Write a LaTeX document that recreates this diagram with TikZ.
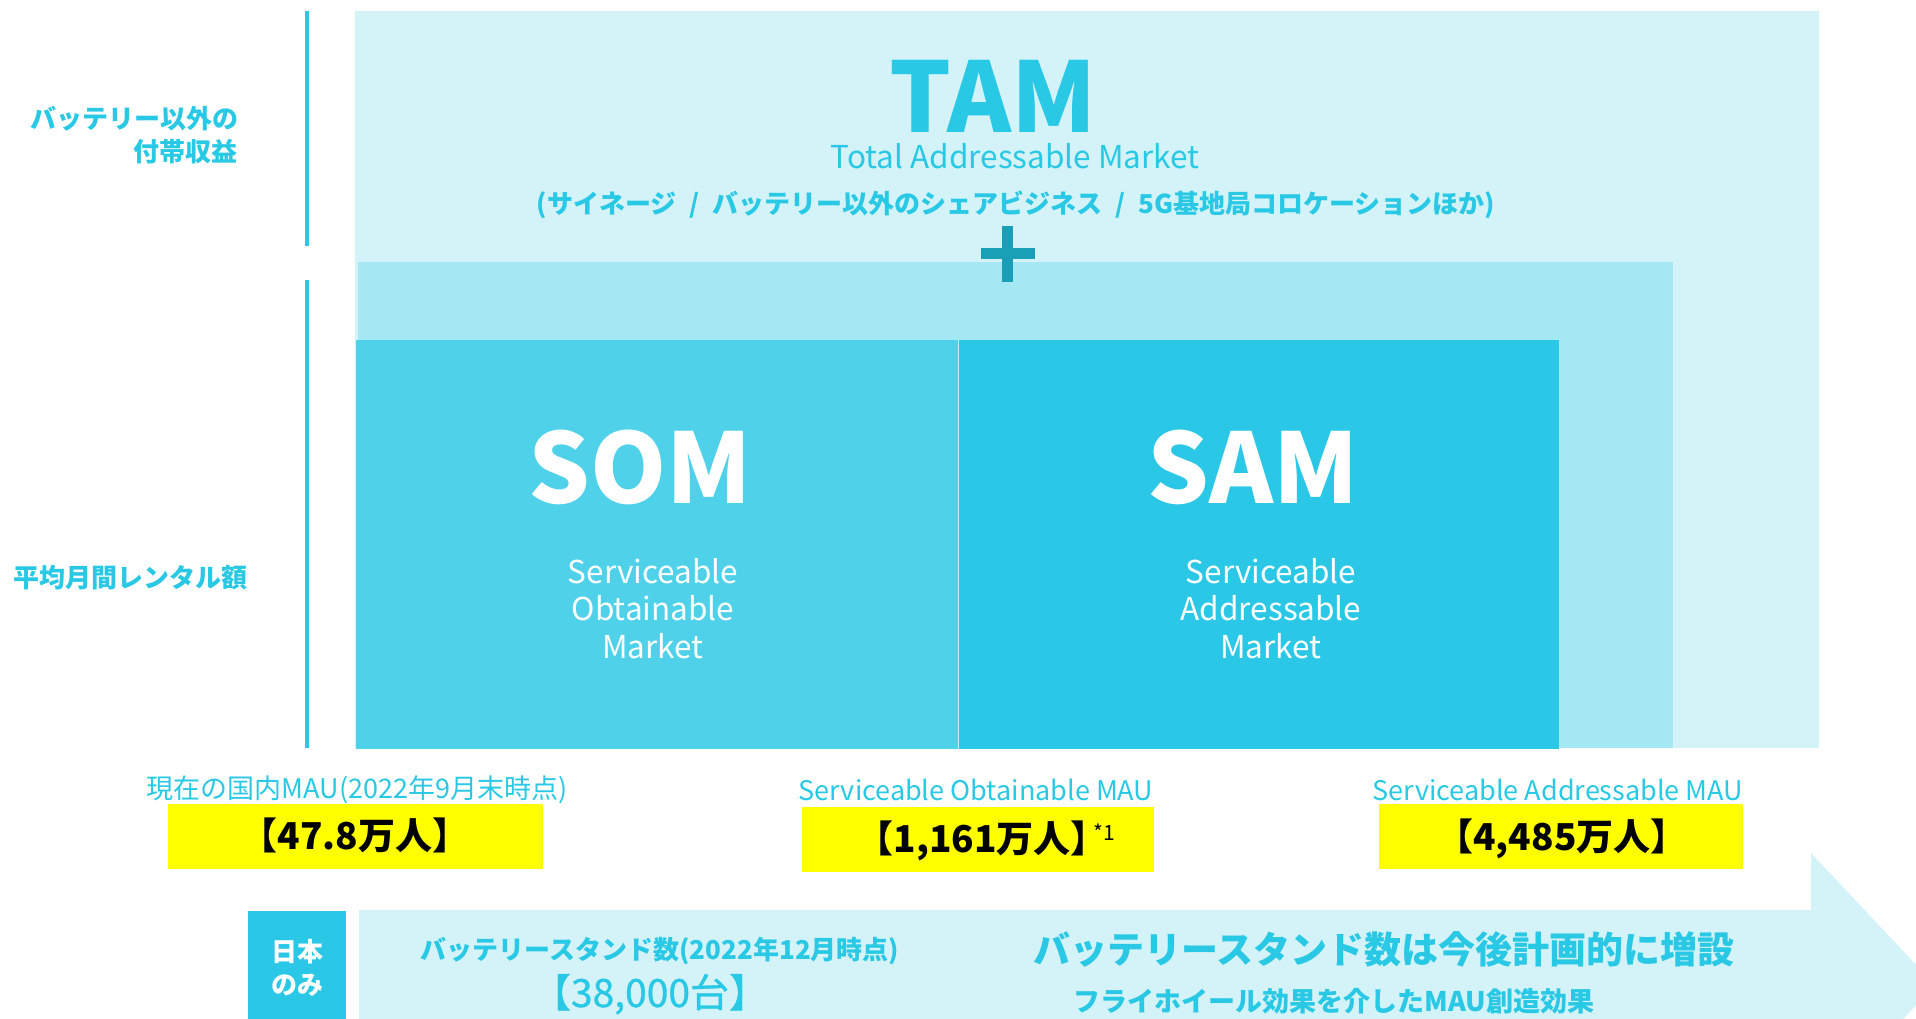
\documentclass[tikz,border=0pt]{standalone}
\usepackage{fontspec}
\setmainfont{Noto Sans CJK JP}
\newfontfamily\medfont{Noto Sans CJK JP}[FakeBold=0.8]
\definecolor{tambg}{HTML}{D4F3F9}
\definecolor{midbg}{HTML}{A3E8F3}
\definecolor{sombg}{HTML}{4FD1EA}
\definecolor{sambg}{HTML}{2AC8E6}
\definecolor{cy}{HTML}{29C8E5}
\definecolor{plusc}{HTML}{1A9FB9}
\definecolor{yel}{HTML}{FFFF00}
\newcommand\fsz[2]{\fontsize{#1}{#2}\selectfont}
\tikzset{
  txt/.style={inner sep=0pt, outer sep=0pt, anchor=base},
  big/.style={txt, font=\fsz{97}{110}\bfseries},
  sub/.style={txt, text=white, font=\fsz{31.5}{37.5}, align=center},
  side/.style={txt, text=cy, font=\fsz{26}{33}\bfseries},
  maulabel/.style={txt, text=cy, font=\fsz{27}{32}},
  num/.style={txt, text=black, font=\fsz{37}{44}\bfseries},
  ybox/.style={fill=yel},
}
\begin{document}
\begin{tikzpicture}[x=1pt,y=-1pt]
\useasboundingbox (0,0) rectangle (1916,1018);
% boxes
\fill[tambg] (355,11) rectangle (1819,748);
\fill[midbg] (358,262) rectangle (1673,748);
\fill[sombg] (356,340) rectangle (958,749);
\fill[sambg] (959,340) rectangle (1559,749);
\draw[white!70!sombg, line width=1pt] (958.5,340) -- (958.5,749);
% plus
\fill[plusc] (1002,226) rectangle (1013,282);
\fill[plusc] (981,248) rectangle (1035,259);
% side lines
\fill[cy] (305,11) rectangle (309,246);
\fill[cy] (305,280) rectangle (309,748);
% arrow band
\begin{scope}
\clip (0,0) rectangle (1916,1018);
\fill[tambg] (359,910) -- (1811,910) -- (1811,853) -- (1935,985) -- (1811,1117) -- (1811,1060) -- (359,1060) -- cycle;
\fill[sambg] (248,911) rectangle (346,1030);
\end{scope}
% yellow boxes
\fill[ybox] (168,804) rectangle (543,869);
\fill[ybox] (802,807) rectangle (1154,872);
\fill[ybox] (1379,804) rectangle (1743,869);

% TAM texts
\node[big, text=cy] (tam) at (993,132) {TAM};
\node[txt, text=cy, font=\fsz{31.5}{36}] (tamsub) at (1015,168) {Total Addressable Market};
\node[txt, text=cy, font=\fsz{26}{32}\bfseries] (tamex) at (1016,213) {(サイネージ\enspace/\enspace バッテリー以外のシェアビジネス\enspace/\enspace 5G基地局コロケーションほか)};
% SOM / SAM
\node[big, text=white] (som) at (640,503) {SOM};
\node[sub] (somsub) at (653,658) {Serviceable\\Obtainable\\Market};
\node[big, text=white] (sam) at (1253,503) {SAM};
\node[sub] (samsub) at (1271,658) {Serviceable\\Addressable\\Market};
% side labels
\node[side, anchor=base east, align=right] (side1) at (238,161) {バッテリー以外の\\付帯収益};
\node[side, anchor=base west] (side2) at (13,587) {平均月間レンタル額};
% MAU labels
\node[maulabel] (l1) at (357,798) {現在の国内MAU(2022年9月末時点)};
\node[maulabel] (l2) at (976,800) {Serviceable Obtainable MAU};
\node[maulabel] (l3) at (1558,800) {Serviceable Addressable MAU};
\node[num] (n1) at (355,849) {【47.8万人】};
\node[num] (n2) at (986,852) {【1,161万人】\kern-0.38em\raisebox{12pt}{\fsz{21}{24}\mdseries *1}};
\node[num] (n3) at (1562,850) {【4,485万人】};
% bottom band
\node[txt, text=white, font=\fsz{26}{33}\bfseries, align=center] (jp) at (297,994) {日本\\のみ};
\node[txt, text=cy, font=\fsz{26}{32}\bfseries] (stand) at (660,959) {バッテリースタンド数(2022年12月時点)};
\node[txt, text=cy, font=\fsz{39}{46}\medfont] (stnum) at (650,1007) {【38,000台】};
\node[txt, text=cy, font=\fsz{37}{44}\bfseries] (plan) at (1384,963) {バッテリースタンド数は今後計画的に増設};
\node[txt, text=cy, font=\fsz{27}{32}\bfseries] (fly) at (1334,1011) {フライホイール効果を介したMAU創造効果};
\end{tikzpicture}
\end{document}
